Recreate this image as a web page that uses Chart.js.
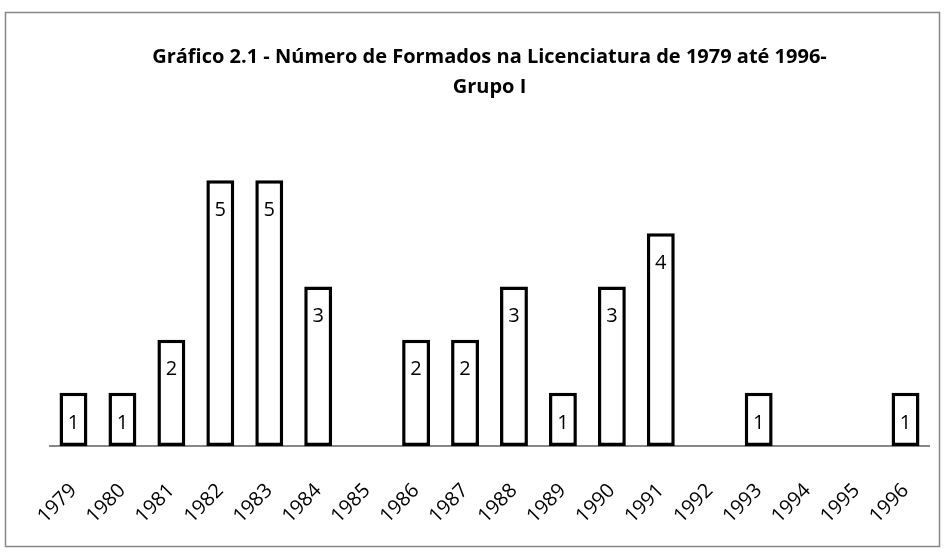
<!DOCTYPE html>
<html>
<head>
<meta charset="utf-8">
<script src="https://cdn.jsdelivr.net/npm/chart.js@4"></script>
<style>
  body { margin: 0; background: #fff; }
  #box { width: 946px; height: 553px; }
</style>
</head>
<body>
<div id="box"><canvas id="grafico" width="946" height="553"></canvas></div>
<script>
// dados
const anos = ['1979', '1980', '1981', '1982', '1983', '1984', '1985', '1986', '1987',
              '1988', '1989', '1990', '1991', '1992', '1993', '1994', '1995', '1996'];
const formados = [1, 1, 2, 5, 5, 3, 0, 2, 2, 3, 1, 3, 4, 0, 1, 0, 0, 1];
const titulo = ['Gráfico 2.1 - Número de Formados na Licenciatura de 1979 até 1996-', 'Grupo I'];

// moldura cinza em volta do grafico
const moldura = {
    id: 'moldura',
    beforeDraw(chart) {
        const c = chart.ctx;
        c.save();
        c.fillStyle = '#fff';
        c.fillRect(0, 0, chart.width, chart.height);
        c.strokeStyle = '#878787';
        c.lineWidth = 1.5;
        c.strokeRect(5.5, 12.5, 934, 534);
        c.restore();
    }
};

// linha do eixo x, so na largura das categorias
const eixo = {
    id: 'eixo',
    beforeDatasetsDraw(chart) {
        const x = chart.scales.x;
        const y0 = chart.scales.y.getPixelForValue(0);
        const meio = (x.getPixelForTick(1) - x.getPixelForTick(0)) / 2;
        const c = chart.ctx;
        c.save();
        c.strokeStyle = '#868686';
        c.lineWidth = 2;
        c.beginPath();
        c.moveTo(x.getPixelForTick(0) - meio, y0);
        c.lineTo(x.getPixelForTick(anos.length - 1) + meio, y0);
        c.stroke();
        c.restore();
    }
};

// numero dentro da barra, perto do topo
const rotulos = {
    id: 'rotulos',
    afterDatasetsDraw(chart) {
        const c = chart.ctx;
        const meta = chart.getDatasetMeta(0);
        c.save();
        c.font = '20px "Open Sans"';
        c.fillStyle = '#000';
        c.textAlign = 'center';
        c.textBaseline = 'middle';
        meta.data.forEach((bar, i) => {
            if (!formados[i]) return;
            c.fillText(formados[i], bar.x, bar.y + 30);
        });
        c.restore();
    }
};

const ctx = document.getElementById('grafico').getContext('2d');

new Chart(ctx, {
    type: 'bar',
    data: {
        labels: anos,
        datasets: [{
            data: formados,
            backgroundColor: '#fff',
            borderColor: '#000',
            borderWidth: 3.5,
            borderSkipped: false,
            barPercentage: 0.57,
            categoryPercentage: 1
        }]
    },
    options: {
        responsive: false,
        animation: false,
        layout: { padding: { top: 42, left: 49, right: 16, bottom: 0 } },
        plugins: {
            legend: { display: false },
            tooltip: { enabled: false },
            title: {
                display: true,
                text: titulo,
                color: '#000',
                font: { family: '"Open Sans"', size: 20, weight: 'bold', lineHeight: 1.5 },
                padding: { top: 0, bottom: 25 }
            }
        },
        scales: {
            x: {
                grid: { display: false, drawTicks: false },
                border: { display: false },
                ticks: {
                    color: '#000',
                    font: { family: '"Open Sans"', size: 20 },
                    minRotation: 45,
                    maxRotation: 45,
                    padding: 33
                },
                afterFit(scale) {
                    scale.height = 107;
                    scale.paddingLeft = 0;
                    scale.paddingRight = 0;
                }
            },
            y: {
                display: false,
                min: 0,
                max: 6
            }
        }
    },
    plugins: [moldura, eixo, rotulos]
});
</script>
</body>
</html>
